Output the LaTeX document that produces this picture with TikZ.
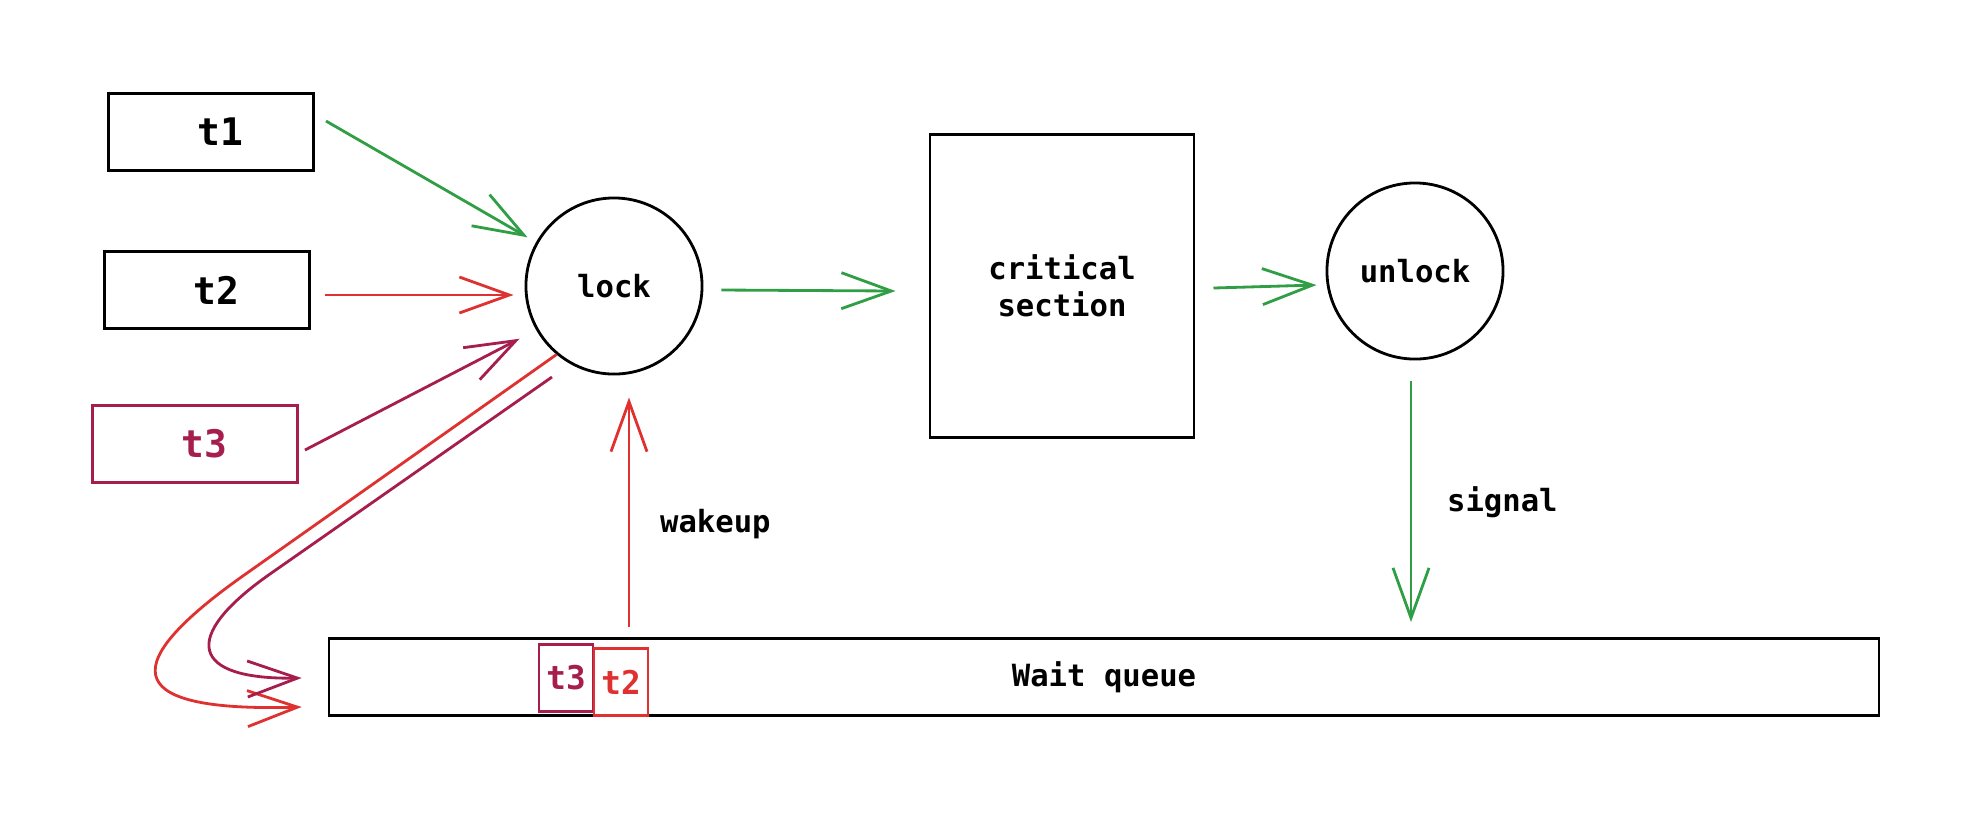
\documentclass[tikz,border=0pt]{standalone}
\usepackage{fontspec}
\setmonofont{DejaVu Sans Mono}
\usetikzlibrary{arrows.meta,calc}

\definecolor{lkgreen}{HTML}{2F9E44}
\definecolor{lkred}{HTML}{E03131}
\definecolor{lkpurple}{HTML}{A61E4D}

\tikzset{
	thread/.style={draw, line width=.8pt, minimum width=2.05cm, minimum height=.77cm, font=\ttfamily\bfseries\fontsize{10.8}{12}\selectfont},
	mutex/.style={draw, circle, line width=.8pt, minimum size=1.76cm, font=\ttfamily\bfseries\fontsize{8.7}{10}\selectfont},
	slot/.style={draw, line width=.7pt, inner sep=0pt, minimum width=.54cm, minimum height=.67cm, font=\ttfamily\bfseries\fontsize{9.3}{10}\selectfont},
	lbl/.style={text=black, font=\ttfamily\bfseries\fontsize{8.7}{10}\selectfont},
	flow/.style={line width=.8pt, -{Straight Barb[length=5mm,width=3.6mm]}},
}

\begin{document}
\begin{tikzpicture}[x=.01cm, y=-.01cm]
		\useasboundingbox (0,0) rectangle (1984,832);
		
		% threads
		\node[thread] (t1) at (211,132) {\hspace*{.18cm}t1};
		\node[thread] (t2) at (207,290) {\hspace*{.18cm}t2};
		\node[thread, draw=lkpurple, text=lkpurple] (t3) at (195,444) {\hspace*{.18cm}t3};
		
		% lock -> critical section -> unlock
		\node[mutex] (lock) at (614,286) {lock};
		\node[draw, line width=.8pt, minimum width=2.64cm, minimum height=3.03cm, align=center, font=\ttfamily\bfseries\fontsize{8.7}{10.5}\selectfont] (crit) at (1062,286) {critical\\section};
		\node[mutex] (unlock) at (1415,271) {unlock};
		
		% wait queue
		\node[draw, line width=.8pt, minimum width=15.49cm, minimum height=.77cm, lbl] (queue) at (1104,677) {Wait queue};
		\node[slot, draw=lkpurple, text=lkpurple] (q3) at (566,678) {t3};
		\node[slot, draw=lkred, text=lkred] (q2) at (621,682) {t2};
		
		% into the lock
		\draw[flow, lkgreen] ($(t1.east)+(11,-11)$) -- ($(lock.150)+(-9,-4)$);
		\draw[flow, lkred] ($(t2.east)+(14,5)$) -- ($(lock.west)+(-11,9)$);
		\draw[flow, lkpurple] ($(t3.east)+(6,6)$) -- ($(lock.210)+(-17,8)$);
		
		% blocked -> queue
		\draw[flow, lkred] (lock.230) -- (240,578) .. controls (110,671) and (130,712) .. ($(queue.west)+(-26,30)$);
		\draw[flow, lkpurple] ($(lock.center)+(-62,91)$) -- (270,574) .. controls (180,637) and (190,680) .. ($(queue.west)+(-26,1)$);
		
		\draw[flow, lkgreen] ($(lock.east)+(18,4)$) -- ($(crit.west)+(-33,5)$);
		\draw[flow, lkgreen] ($(crit.east)+(18,2)$) -- ($(unlock.west)+(-9,14)$);
		
		% signal / wakeup
		\draw[flow, lkgreen] ($(unlock.south)+(-4,21)$) -- node[lbl, right=.23cm] {signal} ($(unlock.south |- queue.north)+(-4,-15)$);
		\draw[flow, lkred] ($(queue.north -| lock.south)+(15,-10)$) -- node[lbl, pos=.45, right=.18cm] {wakeup} ($(lock.south)+(15,22)$);
\end{tikzpicture}
\end{document}
